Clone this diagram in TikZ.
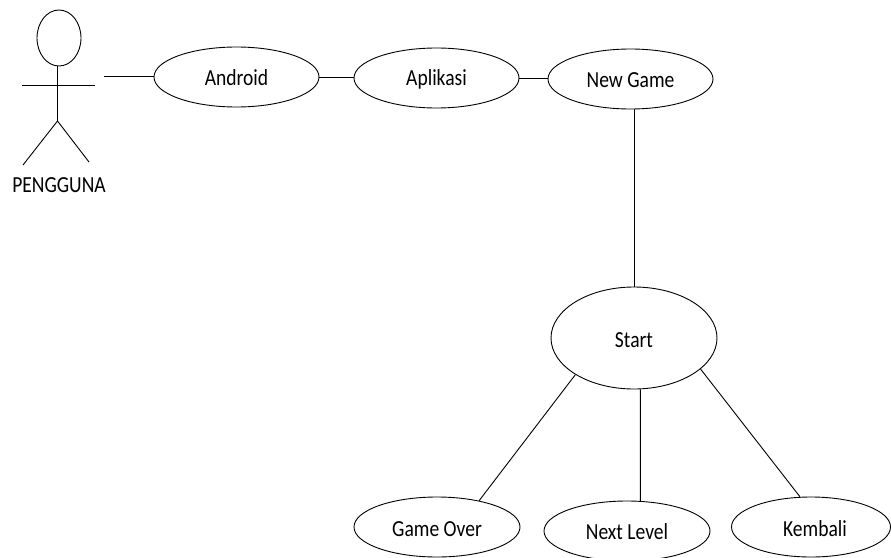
\documentclass[tikz,border=0pt]{standalone}
\usepackage{fontspec}
\setmainfont[FakeStretch=0.85]{Carlito}
\usetikzlibrary{shapes.geometric}
\tikzset{
 uc/.style={draw,ellipse,line width=0.9pt,inner sep=0pt,text height=16pt,text depth=0pt,font=\fontsize{23}{26}\selectfont},
 lnk/.style={line width=0.9pt},
 lbl/.style={inner sep=0pt,font=\fontsize{23}{26}\selectfont}
}
\begin{document}
\begin{tikzpicture}[x=1pt,y=-1pt]
\useasboundingbox (0,0) rectangle (891,557);
\node[uc,minimum width=165pt,minimum height=60pt] (android) at (236.5,77) {Android};
\node[uc,minimum width=165pt,minimum height=60pt,text height=14pt] (aplikasi) at (436.5,78) {Aplikasi};
\node[uc,minimum width=165pt,minimum height=60pt] (newgame) at (630.5,79) {New Game};
\node[uc,minimum width=166pt,minimum height=102pt,text height=18pt] (start) at (634,338) {Start};
\node[uc,minimum width=166pt,minimum height=60pt,text height=19pt] (gameover) at (437,527) {Game Over};
\node[uc,minimum width=166pt,minimum height=60pt] (nextlevel) at (627,531) {Next Level};
\node[uc,minimum width=159pt,minimum height=60pt,text height=18pt] (kembali) at (811,527) {\hspace{8pt}Kembali};
% actor
\node[draw,ellipse,line width=0.9pt,minimum width=44pt,minimum height=56pt,inner sep=0pt] (head) at (59,38) {};
\coordinate (neck) at (57.5,66);
\coordinate (hip) at (57.5,121);
\coordinate (al) at (22,85);
\coordinate (ar) at (95,85);
\coordinate (ll) at (23,165);
\coordinate (lr) at (89,162);
\coordinate (lfree) at (104,76.5);
\draw[lnk] (neck) -- (hip);
\draw[lnk] (al) -- (ar);
\draw[lnk] (ll) -- (hip) -- (lr);
\node[lbl] (pengguna) at (59,185) {PENGGUNA};
\draw[lnk] (lfree) -- (android.west |- lfree);
\draw[lnk] (android.east) -- (aplikasi.west |- android.east);
\draw[lnk] (aplikasi.east) -- (newgame.west |- aplikasi.east);
\draw[lnk] (start.north |- newgame.south) -- (start.north);
\draw[lnk] (start.212) -- (gameover.32.4);
\draw[lnk] (start.-83.3) -- (nextlevel.66.6);
\draw[lnk] (start.-25.2) -- (kembali.110.8);
\end{tikzpicture}
\end{document}
